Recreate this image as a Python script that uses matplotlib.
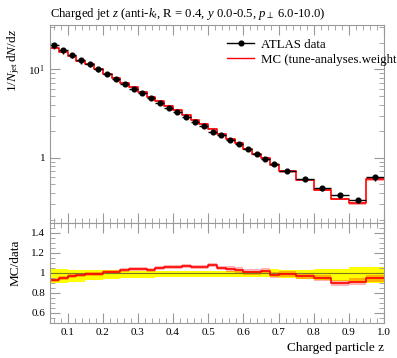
import numpy as np
import matplotlib
matplotlib.use('Agg')
import matplotlib.pyplot as plt
from matplotlib.lines import Line2D
from matplotlib.ticker import FixedLocator, FixedFormatter, MultipleLocator, NullFormatter

plt.rcParams['font.family'] = ['Liberation Serif', 'DejaVu Serif']
plt.rcParams['mathtext.fontset'] = 'custom'
plt.rcParams['mathtext.rm'] = 'Liberation Serif'
plt.rcParams['mathtext.it'] = 'Liberation Serif:italic'

# bin edges in z
edges = [0.05, 0.075, 0.1, 0.125, 0.15, 0.175, 0.2, 0.225, 0.25, 0.275, 0.3,
         0.325, 0.35, 0.375, 0.4, 0.425, 0.45, 0.475, 0.5, 0.525, 0.55, 0.575,
         0.6, 0.625, 0.65, 0.675, 0.7, 0.75, 0.8, 0.85, 0.9, 0.95, 1.0]

# ATLAS data
data = [18.8, 16.7, 14.5, 12.7, 11.5, 10.1, 8.85, 7.83, 6.82, 6.05, 5.35,
        4.70, 4.16, 3.68, 3.26, 2.89, 2.53, 2.28, 1.97, 1.79, 1.57, 1.43,
        1.25, 1.10, 0.975, 0.855, 0.707, 0.578, 0.458, 0.381, 0.335, 0.605]
# relative data uncertainties (up / down)
err_up = [0.04, 0.04, 0.035, 0.035, 0.03, 0.03, 0.03, 0.03, 0.025, 0.025, 0.025,
          0.025, 0.02, 0.02, 0.02, 0.02, 0.02, 0.02, 0.02, 0.02, 0.02, 0.02,
          0.025, 0.025, 0.025, 0.04, 0.03, 0.035, 0.04, 0.04, 0.06, 0.06]
err_dn = [0.10, 0.10, 0.085, 0.085, 0.07, 0.07, 0.06, 0.06, 0.05, 0.05, 0.05,
          0.05, 0.04, 0.04, 0.04, 0.04, 0.04, 0.04, 0.035, 0.035, 0.035, 0.035,
          0.04, 0.04, 0.04, 0.04, 0.05, 0.06, 0.07, 0.08, 0.09, 0.10]

# MC prediction
mc = [17.5, 15.9, 14.0, 12.4, 11.35, 9.97, 8.91, 7.93, 7.00, 6.29, 5.56,
      4.86, 4.36, 3.89, 3.45, 3.08, 2.68, 2.42, 2.13, 1.88, 1.63, 1.47,
      1.26, 1.11, 0.99, 0.838, 0.702, 0.562, 0.435, 0.342, 0.306, 0.573]
mc_err = [0.02, 0.02, 0.02, 0.02, 0.02, 0.02, 0.02, 0.02, 0.02, 0.02, 0.02,
          0.02, 0.02, 0.02, 0.02, 0.02, 0.02, 0.02, 0.02, 0.02, 0.025, 0.025,
          0.025, 0.025, 0.03, 0.03, 0.03, 0.03, 0.035, 0.035, 0.04, 0.04]
# MC / data
ratio = [0.93, 0.95, 0.967, 0.977, 0.987, 0.987, 1.007, 1.013, 1.027, 1.04, 1.04,
         1.033, 1.047, 1.057, 1.057, 1.067, 1.06, 1.06, 1.08, 1.05, 1.04, 1.03,
         1.01, 1.01, 1.017, 0.98, 0.993, 0.973, 0.95, 0.897, 0.913, 0.947]

edges = np.array(edges)
data = np.array(data)
mc = np.array(mc)
ratio = np.array(ratio)
err_up = np.array(err_up)
err_dn = np.array(err_dn)
mc_err = np.array(mc_err)
cent = 0.5 * (edges[:-1] + edges[1:])
half = 0.5 * (edges[1:] - edges[:-1])

def stepv(v):
    return np.append(v, v[-1])

fig = plt.figure(figsize=(3.97, 3.58), dpi=100)
ax = fig.add_axes([50/397, 1-223/358, 334/397, 198/358])
axr = fig.add_axes([50/397, 1-323/358, 334/397, 100/358], sharex=ax)

gray = '#999999'

# main panel
ax.fill_between(edges, stepv(mc*(1-mc_err)), stepv(mc*(1+mc_err)), step='post',
                color='#ff0000', alpha=0.35, lw=0)
ax.step(edges, stepv(mc), where='post', color='red', lw=1.2)
ax.errorbar(cent, data, xerr=half, yerr=[data*err_dn, data*err_up], fmt='o',
            color='black', ms=3.4, lw=1.0, capsize=0)
ax.set_yscale('log')
ax.set_xlim(0.05, 1.0)
ax.set_ylim(0.183, 31.7)
ax.yaxis.set_major_locator(FixedLocator([1, 10]))
ax.yaxis.set_major_formatter(FixedFormatter(['1', '$10^1$']))
ax.yaxis.set_minor_locator(FixedLocator([0.2, 0.3, 0.4, 0.5, 0.6, 0.7, 0.8, 0.9,
                                         2, 3, 4, 5, 6, 7, 8, 9, 20, 30]))
ax.yaxis.set_minor_formatter(NullFormatter())
plt.setp(ax.get_xticklabels(), visible=False)
ax.set_ylabel('$1/N_{\\mathrm{jet}}\\,\\mathrm{d}N/\\mathrm{d}z$', loc='top', fontsize=9.5)
ax.yaxis.set_label_coords(-0.085, 0.98)
ax.set_title('Charged jet $z$ (anti-$k_t$, R = 0.4, $y$ 0.0-0.5, $p_{\\perp}$ 6.0-10.0)',
             loc='left', fontsize=9.2, pad=6)

h_data = Line2D([], [], color='black', marker='o', ms=3.4, lw=1.0)
h_mc = Line2D([], [], color='red', lw=1.0)
leg = ax.legend([h_data, h_mc], ['ATLAS data', 'MC (tune-analyses.weights)'],
                loc='upper left', bbox_to_anchor=(0.53, 0.93), frameon=False,
                fontsize=9.3, handlelength=2.1, handletextpad=0.55, labelspacing=0.2,
                borderaxespad=0, borderpad=0)

# ratio panel
axr.fill_between(edges, stepv(1-err_dn), stepv(1+err_up), step='post',
                 color='#ffff00', lw=0)
axr.axhline(1.0, color='#7a7a1a', lw=0.8)
axr.fill_between(edges, stepv(ratio*(1-mc_err)), stepv(ratio*(1+mc_err)), step='post',
                 color='#ff0000', alpha=0.3, lw=0)
axr.step(edges, stepv(ratio), where='post', color='red', lw=1.2)
axr.set_ylim(0.5, 1.5)
axr.yaxis.set_major_locator(FixedLocator([0.6, 0.8, 1.0, 1.2, 1.4]))
axr.yaxis.set_major_formatter(FixedFormatter(['0.6', '0.8', '1', '1.2', '1.4']))
axr.yaxis.set_minor_locator(MultipleLocator(0.05))
axr.xaxis.set_minor_locator(MultipleLocator(0.02))
axr.set_xticks([0.1, 0.2, 0.3, 0.4, 0.5, 0.6, 0.7, 0.8, 0.9, 1.0])
axr.set_xticklabels(['0.1', '0.2', '0.3', '0.4', '0.5', '0.6', '0.7', '0.8', '0.9', '1.0'])
axr.set_xlim(0.05, 1.0)
axr.set_ylabel('MC/data', loc='top', fontsize=9.5)
axr.yaxis.set_label_coords(-0.085, 0.83)
axr.set_xlabel('Charged particle z', loc='right', fontsize=9.5, labelpad=4)

for a in (ax, axr):
    for s in a.spines.values():
        s.set_color(gray)
    a.tick_params(which='both', direction='in', top=True, right=True, color=gray,
                  labelsize=8)
    a.tick_params(which='major', length=7, width=0.8)
    a.tick_params(which='minor', length=3.5, width=0.6)

fig.savefig('out.png', dpi=100)
